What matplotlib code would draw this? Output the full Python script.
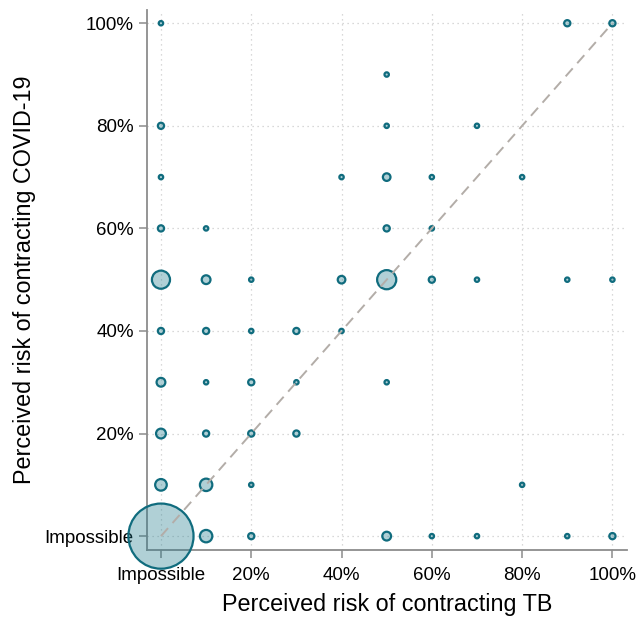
import numpy as np
import matplotlib
matplotlib.use('Agg')
import matplotlib.pyplot as plt

plt.rcParams['font.family'] = ['Liberation Sans', 'DejaVu Sans']

# Perceived risk (%) of TB (x) and of COVID-19 (y), with number of respondents at each pair
tb_risk = [0, 90, 100,
           50,
           0, 50, 70,
           0, 40, 50, 60, 80,
           0, 10, 50, 60,
           0, 10, 20, 40, 50, 60, 70, 90, 100,
           0, 10, 20, 30, 40,
           0, 10, 20, 30, 50,
           0, 10, 20, 30,
           0, 10, 20, 80,
           0, 10, 20, 50, 60, 70, 90, 100]
covid_risk = [100, 100, 100,
              90,
              80, 80, 80,
              70, 70, 70, 70, 70,
              60, 60, 60, 60,
              50, 50, 50, 50, 50, 50, 50, 50, 50,
              40, 40, 40, 40, 40,
              30, 30, 30, 30, 30,
              20, 20, 20, 20,
              10, 10, 10, 10,
              0, 0, 0, 0, 0, 0, 0, 0]
n_resp = [1, 2, 2,
          1,
          2, 1, 1,
          1, 1, 3, 1, 1,
          2, 1, 2, 1,
          17, 4, 1, 3, 19, 2, 1, 1, 1,
          2, 2, 1, 2, 1,
          4, 1, 2, 1, 1,
          5, 2, 2, 2,
          7, 8, 1, 1,
          220, 8, 2, 4, 1, 1, 1, 2]

tick_vals = [0, 20, 40, 60, 80, 100]
tick_labels = ['Impossible', '20%', '40%', '60%', '80%', '100%']

teal = '#106c7e'
fig = plt.figure(figsize=(6.39, 6.19), dpi=100)
ax = fig.add_axes([0.230, 0.1115, 0.751, 0.8725])

ax.scatter(tb_risk, covid_risk, s=np.array(n_resp) * 10,
           facecolor=(31/255, 122/255, 140/255, 0.35), edgecolor=teal,
           linewidth=1.6, zorder=3, clip_on=False)
ax.plot([0, 100], [0, 100], color='#b3ada8', linestyle=(0, (5.5, 3.5)),
        linewidth=1.4, zorder=4)

ax.set_xlim(-3.1, 103.2)
ax.set_ylim(-2.7, 102.6)
ax.set_xticks(tick_vals, tick_labels)
ax.set_yticks(tick_vals, tick_labels)
ax.tick_params(labelsize=13.5, colors='#8c8c8c', labelcolor='black', length=6, width=1.1)
ax.tick_params(axis='x', pad=6)
ax.grid(color='#cccccc', linestyle=(0, (1, 3)), linewidth=0.9)
ax.set_axisbelow(True)

for side in ['top', 'right']:
    ax.spines[side].set_visible(False)
for side in ['left', 'bottom']:
    ax.spines[side].set_color('#8c8c8c')
    ax.spines[side].set_linewidth(1.3)

ax.set_xlabel('Perceived risk of contracting TB', fontsize=16.8, labelpad=7)
ax.set_ylabel('Perceived risk of contracting COVID-19', fontsize=16.8, labelpad=6)

fig.savefig('out.png', dpi=100)
